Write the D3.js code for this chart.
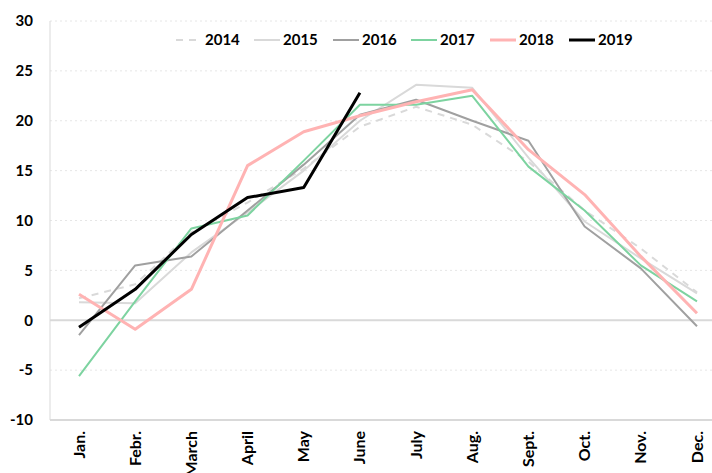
<!DOCTYPE html>
<html>
<head>
<meta charset="utf-8">
<script src="https://cdn.jsdelivr.net/npm/d3@7"></script>
<style>
  body { margin: 0; background: #fff; }
  text { font-family: Lato, "Open Sans", sans-serif; font-weight: bold; fill: #000; }
</style>
</head>
<body>
<div id="chart"></div>
<script>
// Month labels
var months = ["Jan.", "Febr.", "March", "April", "May", "June", "July", "Aug.", "Sept.", "Oct.", "Nov.", "Dec."];

// Monthly values per year
var y2014 = [2.2, 3.6, 8.8, 11.8, 15.2, 19.4, 21.4, 19.6, 15.9, 11.0, 7.2, 2.8];
var y2015 = [1.8, 1.7, 6.8, 10.8, 15.0, 20.0, 23.6, 23.3, 16.3, 9.9, 6.2, 2.7];
var y2016 = [-1.5, 5.5, 6.4, 11.0, 15.6, 20.6, 22.1, 20.0, 18.0, 9.4, 5.2, -0.6];
var y2017 = [-5.6, 1.9, 9.2, 10.5, 16.0, 21.6, 21.6, 22.5, 15.4, 11.0, 5.5, 1.9];
var y2018 = [2.6, -0.9, 3.1, 15.5, 18.9, 20.5, 21.9, 23.1, 17.1, 12.6, 6.4, 0.7];
var y2019 = [-0.7, 3.1, 8.6, 12.3, 13.3, 22.8];

var yTicks = [-10, -5, 0, 5, 10, 15, 20, 25, 30];

var series = [
    { name: "2014", values: y2014, color: "#d9d9d9", width: 2, dash: "7,6" },
    { name: "2015", values: y2015, color: "#d9d9d9", width: 2, dash: null },
    { name: "2016", values: y2016, color: "#a0a0a0", width: 2, dash: null },
    { name: "2017", values: y2017, color: "#7dd3a0", width: 2, dash: null },
    { name: "2018", values: y2018, color: "#ffb3b3", width: 3, dash: null },
    { name: "2019", values: y2019, color: "#000000", width: 3, dash: null }
];

function init() {
    var w = 712;
    var h = 473;

    var svg = d3.select("#chart")
        .append("svg")
        .attr("width", w)
        .attr("height", h);

    // scales
    var x = d3.scalePoint()
        .domain(months)
        .range([79, 697]);

    var y = d3.scaleLinear()
        .domain([-10, 30])
        .range([420, 21]);

    // gridlines
    svg.selectAll("line.grid")
        .data(yTicks)
        .enter()
        .append("line")
        .attr("class", "grid")
        .attr("x1", 50)
        .attr("x2", w)
        .attr("y1", function (d) { return y(d); })
        .attr("y2", function (d) { return y(d); })
        .style("stroke", function (d) { return (d === 0 || d === -10) ? "#d9d9d9" : "#e6e6e6"; })
        .style("stroke-width", function (d) { return (d === 0 || d === -10) ? 2 : 1; })
        .style("stroke-dasharray", function (d) { return (d === 0 || d === -10) ? null : "2,3"; });

    // left axis line
    svg.append("line")
        .attr("x1", 50).attr("x2", 50)
        .attr("y1", y(30)).attr("y2", y(-10))
        .style("stroke", "#d9d9d9")
        .style("stroke-width", 1);

    // y tick labels
    svg.selectAll("text.ylab")
        .data(yTicks)
        .enter()
        .append("text")
        .attr("class", "ylab")
        .attr("x", 33)
        .attr("y", function (d) { return y(d); })
        .attr("dy", "0.35em")
        .attr("text-anchor", "end")
        .style("font-size", "15px")
        .text(function (d) { return d; });

    // x labels (rotated)
    svg.selectAll("text.xlab")
        .data(months)
        .enter()
        .append("text")
        .attr("class", "xlab")
        .attr("transform", function (d) { return "translate(" + (x(d) + 5.5) + ",431) rotate(-90)"; })
        .attr("text-anchor", "end")
        .style("font-size", "16px")
        .text(function (d) { return d; });

    // lines
    var line = d3.line()
        .x(function (d, i) { return x(months[i]); })
        .y(function (d) { return y(d); });

    svg.selectAll("path.series")
        .data(series)
        .enter()
        .append("path")
        .attr("class", "series")
        .attr("d", function (d) { return line(d.values); })
        .style("fill", "none")
        .style("stroke", function (d) { return d.color; })
        .style("stroke-width", function (d) { return d.width; })
        .style("stroke-dasharray", function (d) { return d.dash; })
        .style("stroke-linejoin", "round");

    // legend
    var legendX = [176, 254, 333, 411, 490, 569];
    var legend = svg.selectAll("g.legend")
        .data(series)
        .enter()
        .append("g")
        .attr("class", "legend")
        .attr("transform", function (d, i) { return "translate(" + legendX[i] + ",40)"; });

    legend.append("line")
        .attr("x1", 0).attr("x2", 26)
        .attr("y1", 0).attr("y2", 0)
        .style("stroke", function (d) { return d.color; })
        .style("stroke-width", function (d) { return d.width; })
        .style("stroke-dasharray", function (d) { return d.dash; });

    legend.append("text")
        .attr("x", 29)
        .attr("y", 0)
        .attr("dy", "0.35em")
        .style("font-size", "15px")
        .text(function (d) { return d.name; });
}

window.onload = init;
</script>
</body>
</html>
